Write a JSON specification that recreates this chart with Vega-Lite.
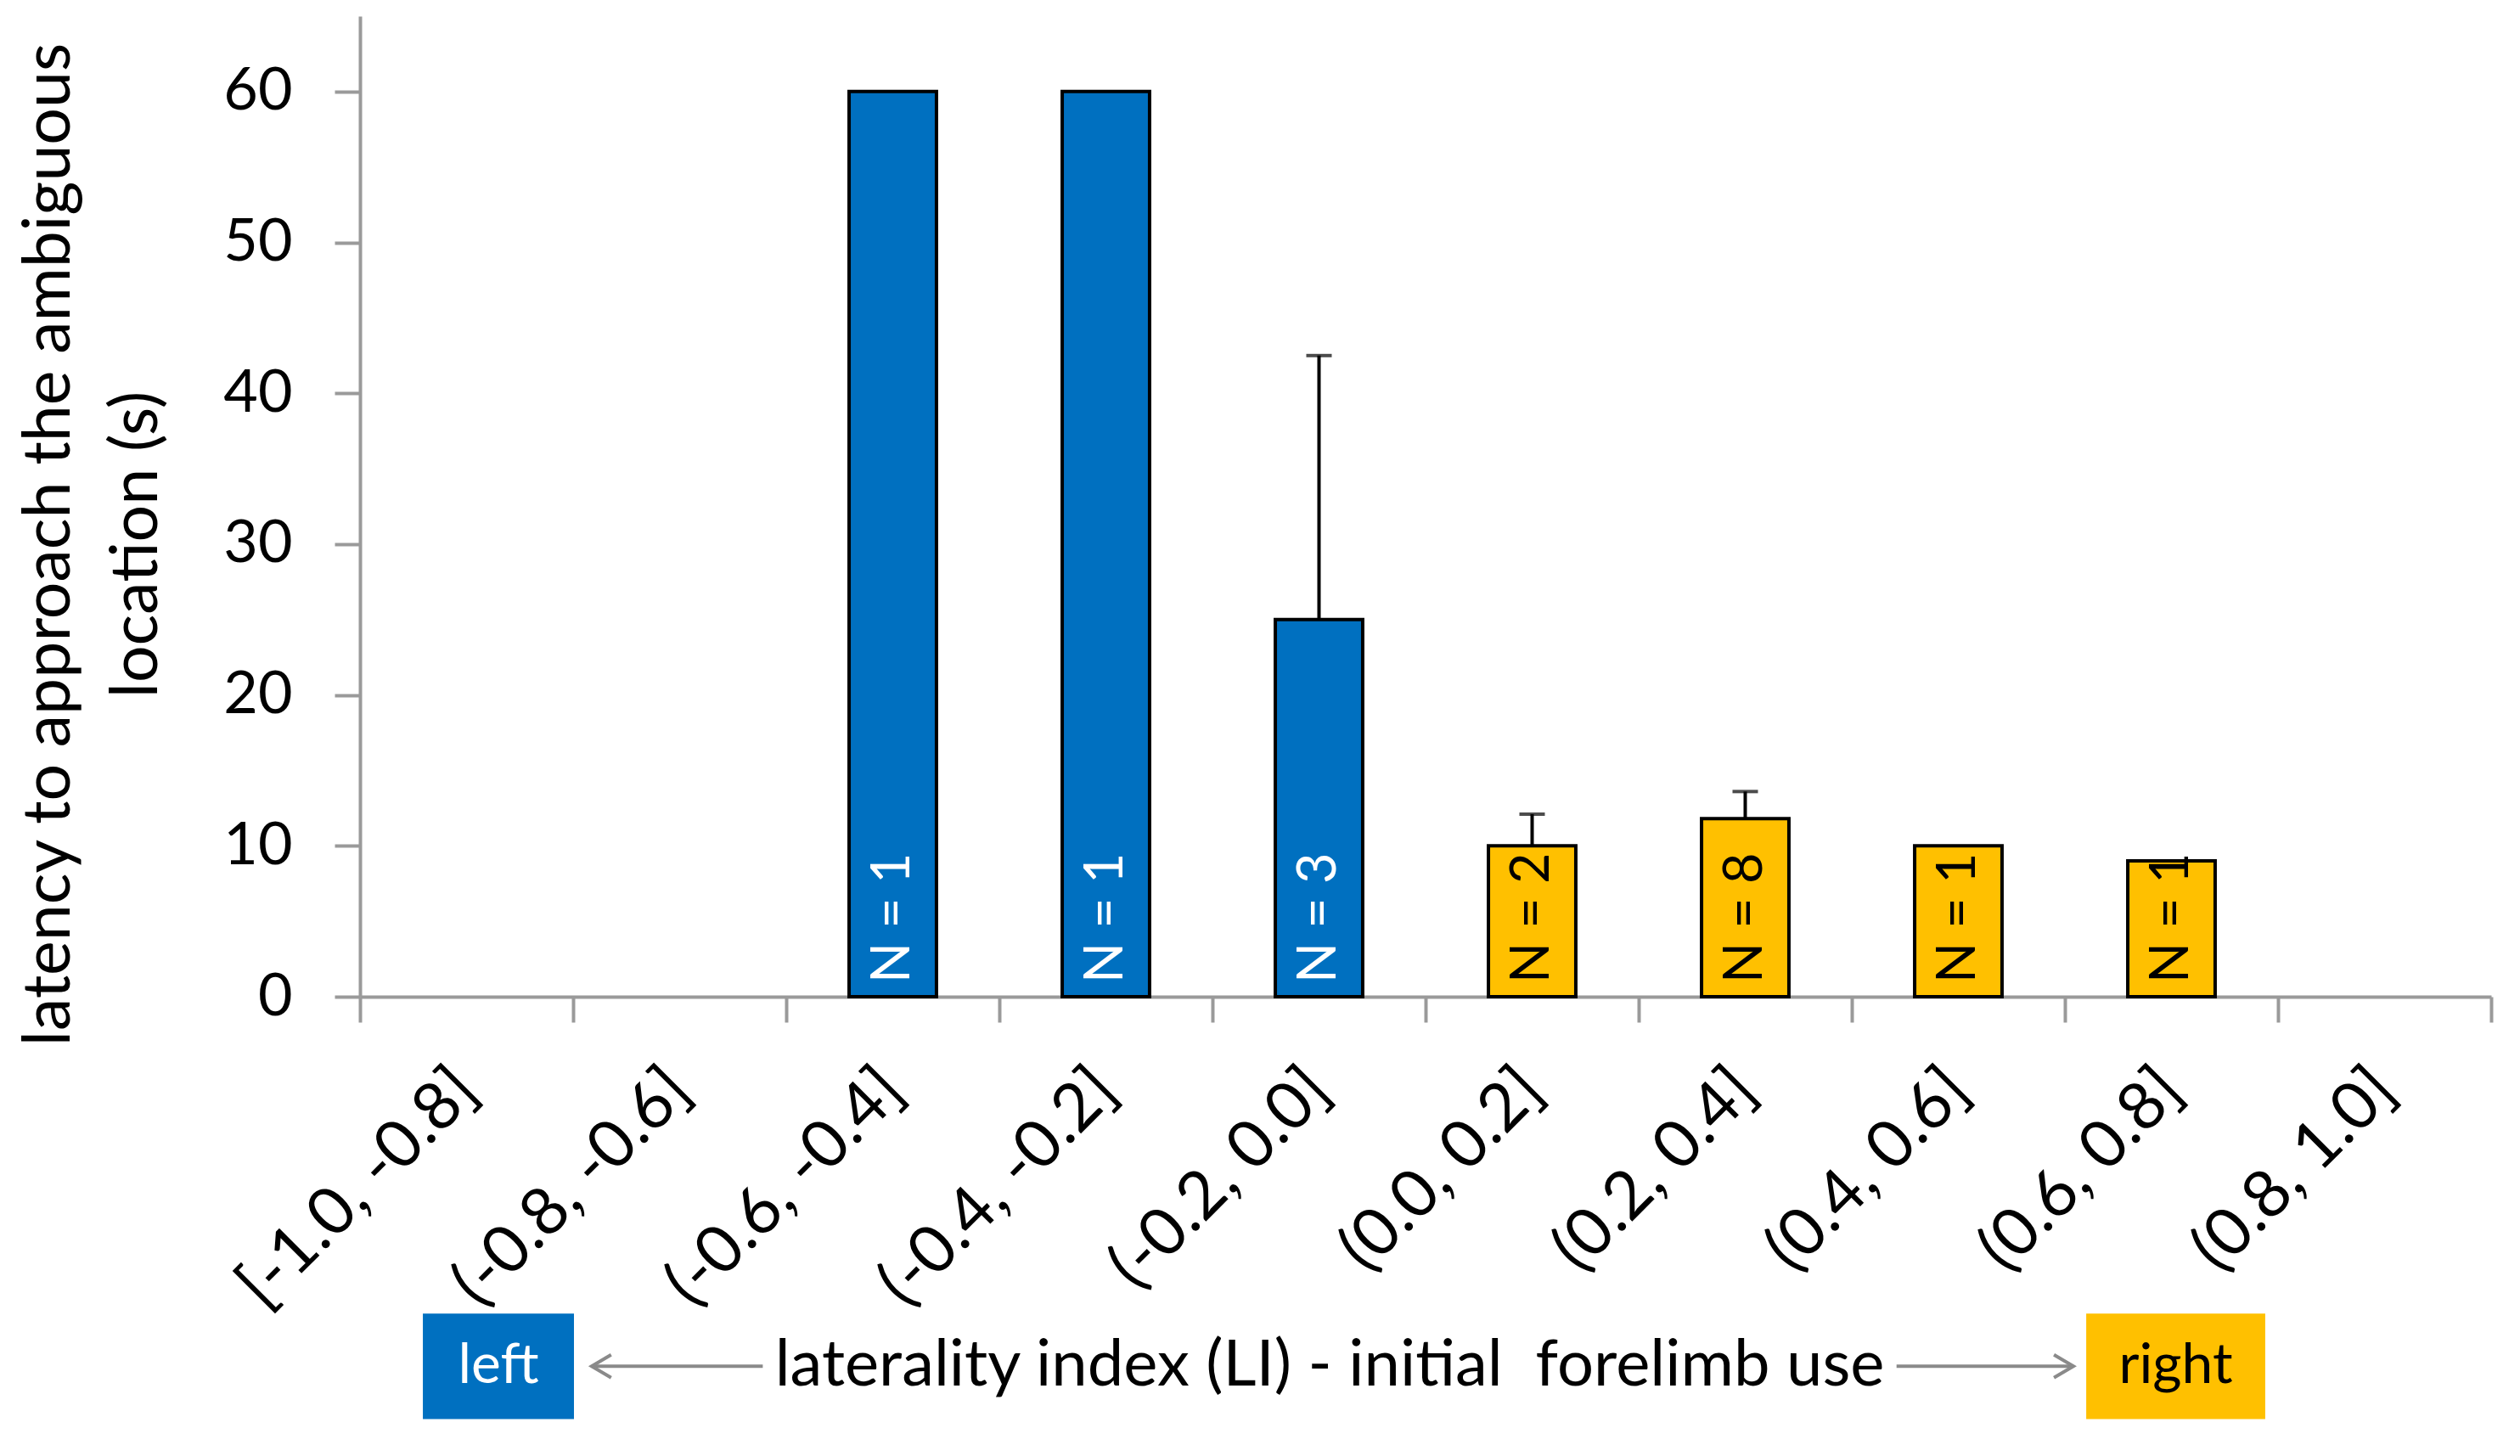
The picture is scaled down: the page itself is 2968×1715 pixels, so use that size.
{
  "$schema": "https://vega.github.io/schema/vega-lite/v6.json",
  "width": 2510,
  "height": 1155,
  "autosize": {"type": "none"},
  "padding": {"left": 424, "top": 19, "right": 34, "bottom": 541},
  "background": "white",
  "config": {
    "view": {"stroke": null},
    "font": "Lato"
  },
  "resolve": {"scale": {"x": "independent"}},
  "layer": [
    {
      "data": {
        "values": [
          {"bin": "[-1.0, -0.8]", "latency": null, "upper": null, "n": null, "side": "left"},
          {"bin": "(-0.8, -0.6]", "latency": null, "upper": null, "n": null, "side": "left"},
          {"bin": "(-0.6, -0.4]", "latency": 60, "upper": null, "n": "N = 1", "side": "left"},
          {"bin": "(-0.4, -0.2]", "latency": 60, "upper": null, "n": "N = 1", "side": "left"},
          {"bin": "(-0.2, 0.0]", "latency": 25, "upper": 42.5, "n": "N = 3", "side": "left"},
          {"bin": "(0.0, 0.2]", "latency": 10, "upper": 12.1, "n": "N = 2", "side": "right"},
          {"bin": "(0.2, 0.4]", "latency": 11.8, "upper": 13.6, "n": "N = 8", "side": "right"},
          {"bin": "(0.4, 0.6]", "latency": 10, "upper": null, "n": "N = 1", "side": "right"},
          {"bin": "(0.6, 0.8]", "latency": 9, "upper": null, "n": "N = 1", "side": "right"},
          {"bin": "(0.8, 1.0]", "latency": null, "upper": null, "n": null, "side": "right"}
        ]
      },
      "encoding": {
        "x": {
          "field": "bin",
          "type": "nominal",
          "sort": null,
          "scale": {
            "domain": ["[-1.0, -0.8]", "(-0.8, -0.6]", "(-0.6, -0.4]", "(-0.4, -0.2]", "(-0.2, 0.0]", "(0.0, 0.2]", "(0.2, 0.4]", "(0.4, 0.6]", "(0.6, 0.8]", "(0.8, 1.0]"],
            "paddingInner": 0,
            "paddingOuter": 0
          },
          "axis": {
            "title": null,
            "labelAngle": -45,
            "labelAlign": "right",
            "labelBaseline": "middle",
            "labelFontSize": 78,
            "labelColor": "black",
            "labelPadding": 68,
            "labelLimit": 0,
            "labelOverlap": false,
            "tickBand": "extent",
            "tickSize": 30,
            "tickWidth": 4,
            "tickColor": "#9a9a9a",
            "domainColor": "#9a9a9a",
            "domainWidth": 4
          }
        }
      },
      "layer": [
        {
          "mark": {"type": "bar", "width": {"band": 0.41}, "stroke": "black", "strokeWidth": 4},
          "encoding": {
            "y": {
              "field": "latency",
              "type": "quantitative",
              "scale": {"domain": [0, 65], "nice": false},
              "axis": {
                "values": [0, 10, 20, 30, 40, 50, 60],
                "grid": false,
                "title": ["latency to approach the ambiguous", "location (s)"],
                "titleFontSize": 77,
                "titleFontWeight": "normal",
                "titleColor": "black",
                "titleLineHeight": 103,
                "titlePadding": 62,
                "titleY": 622,
                "labelFontSize": 70,
                "labelColor": "black",
                "labelPadding": 50,
                "tickSize": 30,
                "tickWidth": 4,
                "tickColor": "#9a9a9a",
                "domainColor": "#9a9a9a",
                "domainWidth": 4
              }
            },
            "color": {
              "field": "side",
              "type": "nominal",
              "scale": {"domain": ["left", "right"], "range": ["#0070C0", "#FFC000"]},
              "legend": null
            }
          }
        },
        {
          "transform": [{"filter": "datum.upper != null"}],
          "mark": {"type": "rule", "color": "black", "strokeWidth": 4},
          "encoding": {
            "y": {"field": "latency", "type": "quantitative"},
            "y2": {"field": "upper"}
          }
        },
        {
          "transform": [{"filter": "datum.upper != null"}],
          "mark": {"type": "tick", "color": "black", "size": 30, "thickness": 4},
          "encoding": {
            "y": {"field": "upper", "type": "quantitative"}
          }
        },
        {
          "transform": [{"filter": "datum.n != null"}],
          "mark": {"type": "text", "angle": 270, "align": "left", "baseline": "middle", "dx": 16, "fontSize": 63},
          "encoding": {
            "y": {"datum": 0},
            "text": {"field": "n"},
            "color": {"condition": {"test": "datum.side === 'left'", "value": "white"}, "value": "black"}
          }
        }
      ]
    },
    {
      "data": {"values": [{"note": "laterality index (LI) - initial\u00a0\u00a0forelimb use"}]},
      "layer": [
        {
          "mark": {"type": "rect", "color": "#0070C0"},
          "encoding": {
            "x": {"datum": 0.295, "type": "quantitative", "scale": {"domain": [0, 10]}, "axis": null},
            "x2": {"datum": 1.004},
            "y": {"datum": -21.0},
            "y2": {"datum": -28.0}
          }
        },
        {
          "mark": {"type": "rect", "color": "#FFC000"},
          "encoding": {
            "x": {"datum": 8.10, "type": "quantitative", "scale": {"domain": [0, 10]}, "axis": null},
            "x2": {"datum": 8.94},
            "y": {"datum": -21.0},
            "y2": {"datum": -28.0}
          }
        },
        {
          "mark": {"type": "text", "fontSize": 66, "color": "white", "align": "center", "baseline": "middle"},
          "encoding": {
            "x": {"datum": 0.65, "type": "quantitative", "scale": {"domain": [0, 10]}, "axis": null},
            "y": {"datum": -24.5},
            "text": {"value": "left"}
          }
        },
        {
          "mark": {"type": "text", "fontSize": 66, "color": "black", "align": "center", "baseline": "middle"},
          "encoding": {
            "x": {"datum": 8.52, "type": "quantitative", "scale": {"domain": [0, 10]}, "axis": null},
            "y": {"datum": -24.5},
            "text": {"value": "right"}
          }
        },
        {
          "mark": {"type": "text", "fontSize": 76, "color": "black", "align": "center", "baseline": "middle"},
          "encoding": {
            "x": {"datum": 4.55, "type": "quantitative", "scale": {"domain": [0, 10]}, "axis": null},
            "y": {"datum": -24.5},
            "text": {"field": "note"}
          }
        },
        {
          "mark": {"type": "rule", "color": "#8a8a8a", "strokeWidth": 4},
          "encoding": {
            "x": {"datum": 1.087, "type": "quantitative", "scale": {"domain": [0, 10]}, "axis": null},
            "x2": {"datum": 1.89},
            "y": {"datum": -24.5}
          }
        },
        {
          "mark": {"type": "rule", "color": "#8a8a8a", "strokeWidth": 4},
          "encoding": {
            "x": {"datum": 7.21, "type": "quantitative", "scale": {"domain": [0, 10]}, "axis": null},
            "x2": {"datum": 8.04},
            "y": {"datum": -24.5}
          }
        },
        {
          "mark": {"type": "point", "shape": "M1.7,-1L0,0L1.7,1", "filled": false, "stroke": "#8a8a8a", "strokeWidth": 4, "size": 729, "opacity": 1},
          "encoding": {
            "x": {"datum": 1.087, "type": "quantitative", "scale": {"domain": [0, 10]}, "axis": null},
            "y": {"datum": -24.5}
          }
        },
        {
          "mark": {"type": "point", "shape": "M-1.7,-1L0,0L-1.7,1", "filled": false, "stroke": "#8a8a8a", "strokeWidth": 4, "size": 729, "opacity": 1},
          "encoding": {
            "x": {"datum": 8.04, "type": "quantitative", "scale": {"domain": [0, 10]}, "axis": null},
            "y": {"datum": -24.5}
          }
        }
      ]
    }
  ]
}
